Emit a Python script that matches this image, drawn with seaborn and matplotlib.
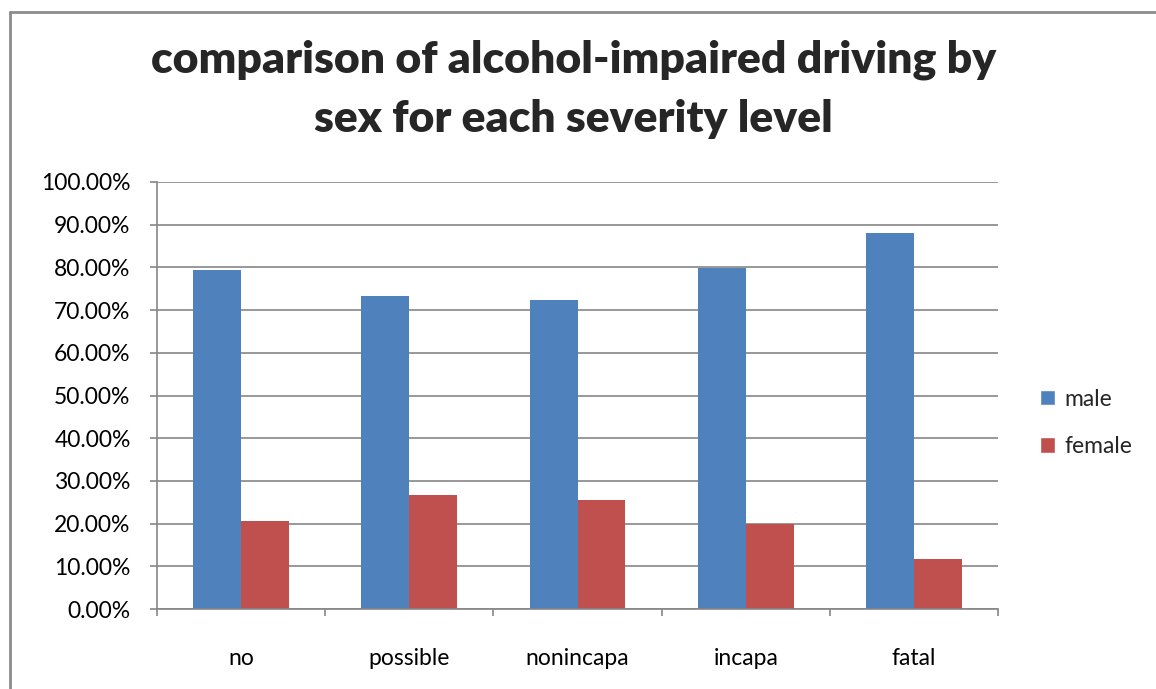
import matplotlib
matplotlib.use("Agg")
import matplotlib.pyplot as plt
from matplotlib.lines import Line2D
from matplotlib.patches import Patch
from matplotlib.ticker import FixedLocator, PercentFormatter
import numpy as np
import pandas as pd
import seaborn as sns

# Severity levels and share of alcohol-impaired drivers by sex (%)
severity = ["no", "possible", "nonincapa", "incapa", "fatal"]
male = [79.4, 73.3, 72.4, 79.8, 88.1]
female = [20.6, 26.7, 25.6, 20.0, 11.8]
y_ticks = [0, 10, 20, 30, 40, 50, 60, 70, 80, 90, 100]

df = pd.DataFrame({
    "severity": severity * 2,
    "sex": ["male"] * len(severity) + ["female"] * len(severity),
    "pct": male + female,
})

sns.set_theme(style="white")
plt.rcParams["font.family"] = ["Lato", "DejaVu Sans"]

grid_col = "#868686"
palette = {"male": "#4F81BD", "female": "#C0504D"}
label_size = 16.5

fig = plt.figure(figsize=(11.56, 6.89), dpi=100)
ax = fig.add_axes([157 / 1156, 1 - 609 / 689, (998 - 157) / 1156, (609 - 182) / 689])

sns.barplot(data=df, x="severity", y="pct", hue="sex", order=severity,
            hue_order=["male", "female"], palette=palette, width=0.57,
            saturation=1, ax=ax, legend=False, edgecolor="none", linewidth=0)

ax.set_xlim(-0.5, len(severity) - 0.5)
ax.set_ylim(0, 100)
ax.yaxis.set_major_locator(FixedLocator(y_ticks))
ax.yaxis.set_major_formatter(PercentFormatter(decimals=2))
ax.yaxis.grid(True, color=grid_col, linewidth=1.2)
ax.set_axisbelow(True)

for side in ("top", "right"):
    ax.spines[side].set_visible(False)
for side in ("left", "bottom"):
    ax.spines[side].set_color(grid_col)
    ax.spines[side].set_linewidth(1.2)

# category boundaries carry the x tick marks
ax.xaxis.set_minor_locator(FixedLocator(np.arange(-0.5, len(severity), 1.0)))
ax.tick_params(axis="x", which="major", length=0, pad=28, labelsize=label_size, colors="black")
ax.tick_params(axis="x", which="minor", bottom=True, length=5, width=1.2, color=grid_col)
ax.tick_params(axis="y", which="major", left=True, length=5, width=1.2, color=grid_col,
               labelsize=label_size, pad=14, labelcolor="black")
ax.set_xlabel("")
ax.set_ylabel("")

title_x = 573.5 / 1156
fig.text(title_x, 1 - 73 / 689, "comparison of alcohol-impaired driving by",
         ha="center", va="baseline", fontsize=32, fontweight="heavy")
fig.text(title_x, 1 - 132 / 689, "sex for each severity level",
         ha="center", va="baseline", fontsize=32, fontweight="heavy")

handles = [Patch(facecolor=palette["male"], label="male"),
           Patch(facecolor=palette["female"], label="female")]
fig.legend(handles=handles, loc="center left", bbox_to_anchor=(1019 / 1156, 1 - 423 / 689),
           frameon=False, fontsize=label_size, handlelength=0.65, handleheight=0.65,
           handletextpad=0.45, labelspacing=1.15)

# chart frame
fig.add_artist(Line2D([10 / 1156, 10 / 1156], [0, 1 - 12 / 689], color="#8C8C8C", linewidth=2,
                      transform=fig.transFigure))
fig.add_artist(Line2D([10 / 1156, 1], [1 - 12 / 689, 1 - 12 / 689], color="#8C8C8C", linewidth=2,
                      transform=fig.transFigure))

fig.savefig("out.png", dpi=100)
